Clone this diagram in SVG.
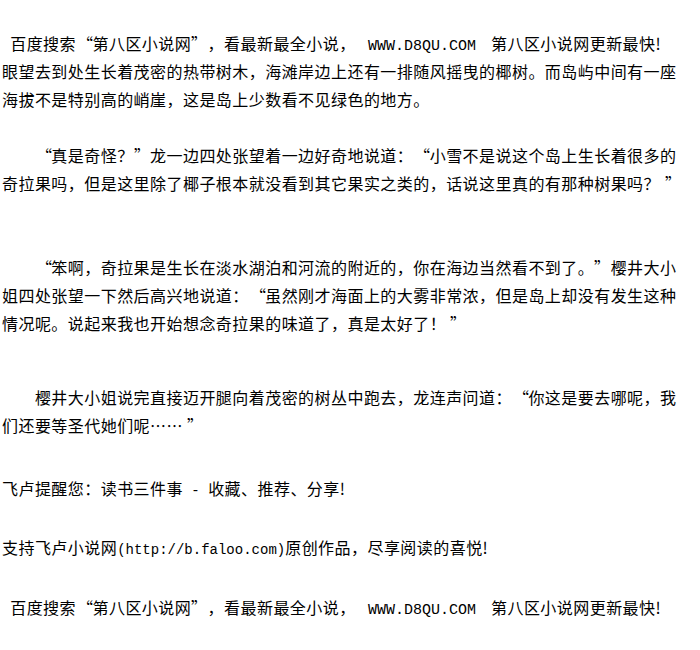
<svg xmlns="http://www.w3.org/2000/svg" width="700" height="650" viewBox="0 0 700 650">
<style>
.t{font-family:"Noto Sans CJK SC","Noto Sans CJK JP",sans-serif;font-size:16px;letter-spacing:0.45px;fill:#000}
.m{font-family:"Liberation Mono",monospace;font-size:14px;letter-spacing:0}
.w{font-family:"Liberation Mono",monospace;font-size:15px;letter-spacing:0}
</style>
<rect width="700" height="650" fill="#fff"/>
<g id="page">
<text class="t" x="10.2" y="50">百度搜索<tspan x="77">“</tspan><tspan x="92.5">第八区小说网</tspan><tspan x="191">”</tspan><tspan x="207.6">，看最新最全小说，</tspan><tspan class="w" x="368">WWW.D8QU.COM</tspan><tspan x="491">第八区小说网更新最快!</tspan></text>
<text class="t" x="2" y="78">眼望去到处生长着茂密的热带树木，海滩岸边上还有一排随风摇曳的椰树。而岛屿中间有一座</text>
<text class="t" x="2" y="106">海拔不是特别高的峭崖，这是岛上少数看不见绿色的地方。</text>
<text class="t" x="2" y="162">　　<tspan x="36">“</tspan><tspan x="51.35">真是奇怪？</tspan><tspan x="134">”</tspan><tspan x="150.05">龙一边四处张望着一边好奇地说道：</tspan><tspan x="414">“</tspan><tspan x="429.7">小雪不是说这个岛上生长着很多的</tspan></text>
<text class="t" x="2" y="190">奇拉果吗，但是这里除了椰子根本就没看到其它果实之类的，话说这里真的有那种树果吗？<tspan x="665">”</tspan></text>
<text class="t" x="2" y="274">　　<tspan x="36">“</tspan><tspan x="51.35">笨啊，奇拉果是生长在淡水湖泊和河流的附近的，你在海边当然看不到了。</tspan><tspan x="594">”</tspan><tspan x="610.65">樱井大小</tspan></text>
<text class="t" x="2" y="302">姐四处张望一下然后高兴地说道：<tspan x="250">“</tspan><tspan x="265.2">虽然刚才海面上的大雾非常浓，但是岛上却没有发生这种</tspan></text>
<text class="t" x="2" y="330">情况呢。说起来我也开始想念奇拉果的味道了，真是太好了！<tspan x="450">”</tspan></text>
<text class="t" x="2" y="404">　　樱井大小姐说完直接迈开腿向着茂密的树丛中跑去，龙连声问道：<tspan x="513">“</tspan><tspan x="528.4">你这是要去哪呢，我</tspan></text>
<text class="t" x="2" y="432">们还要等圣代她们呢……<tspan x="187">”</tspan></text>
<text class="t" x="2" y="495">飞卢提醒您：读书三件事<tspan class="m"> - </tspan>收藏、推荐、分享!</text>
<text class="t" x="2" y="554">支持飞卢小说网<tspan class="m">(http://b.faloo.com)</tspan>原创作品，尽享阅读的喜悦!</text>
<text class="t" x="10.2" y="614">百度搜索<tspan x="77">“</tspan><tspan x="92.5">第八区小说网</tspan><tspan x="191">”</tspan><tspan x="207.6">，看最新最全小说，</tspan><tspan class="w" x="368">WWW.D8QU.COM</tspan><tspan x="491">第八区小说网更新最快!</tspan></text>
</g>
</svg>
